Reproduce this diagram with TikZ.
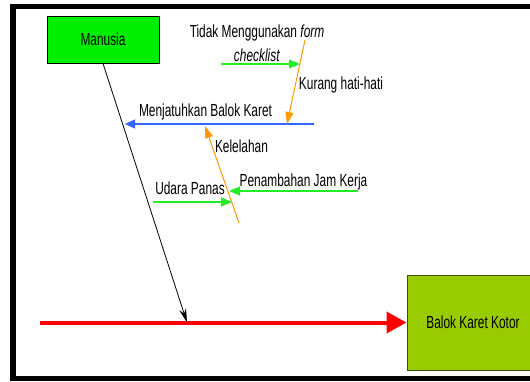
\documentclass[tikz,border=0pt]{standalone}
\usepackage{fontspec}
\setmainfont[FakeStretch=0.68]{Liberation Sans}
\usetikzlibrary{arrows.meta}

\definecolor{hijau}{HTML}{00EE00}
\definecolor{hijaupanah}{HTML}{22EE22}
\definecolor{zaitun}{HTML}{99CC00}
\definecolor{zaitungelap}{HTML}{3F4F10}
\definecolor{jingga}{HTML}{FF9900}
\definecolor{biru}{HTML}{3366FF}

\tikzset{
	lbl/.style={font=\fontsize{17.5}{24}\selectfont, inner sep=0pt},
	kotak/.style={draw, line width=1pt, font=\fontsize{17.5}{20}\selectfont},
	sebab/.style={draw=hijaupanah, line width=1.2pt, -{Triangle[length=11pt,width=9pt]}},
	subsebab/.style={draw=jingga, line width=1pt, -{Triangle[length=12pt,width=8pt]}},
}

\begin{document}
\begin{tikzpicture}[x=1pt,y=-1pt]
	\useasboundingbox (0,0) rectangle (530,381);
	\clip (0,0) rectangle (530,381);
	\fill[white] (0,0) rectangle (530,381);
	\draw[line width=5.5pt] (540,6.5) -- (13,6.5) -- (13,378.5) -- (540,378.5);

	\node[kotak, fill=hijau, minimum width=112pt, minimum height=47pt] (manusia) at (103,39.5) {Manusia};
	\node[kotak, draw=zaitungelap, fill=zaitun, minimum width=132pt, minimum height=95pt] (balok) at (473,322.5) {Balok Karet Kotor};

	\coordinate (ekor) at (40,322.5);
	\coordinate (tulang) at (187,322.5);
	\coordinate (jatuh0) at (314,124);
	\coordinate (jatuh1) at (125,124);
	\coordinate (kurang0) at (305,40);
	\coordinate (kurang1) at (287,124);
	\coordinate (lelah0) at (239,223);
	\coordinate (lelah1) at (205,126);
	\coordinate (form0) at (221,64);
	\coordinate (form1) at (300,64);
	\coordinate (jam0) at (358,191);
	\coordinate (jam1) at (229,191);
	\coordinate (udara0) at (153,202);
	\coordinate (udara1) at (232,202);

	\draw[red, line width=4pt, -{Triangle[length=20pt,width=21pt]}] (ekor) -- (balok.west);
	\draw[black, line width=0.8pt, -{Stealth[length=14pt,width=7pt]}] (manusia.south) -- (tulang);
	\draw[biru, line width=1.2pt, -{Triangle[length=10pt,width=9pt]}] (jatuh0) -- (jatuh1);
	\draw[subsebab] (kurang0) -- (kurang1);
	\draw[subsebab] (lelah0) -- (lelah1);
	\draw[sebab] (form0) -- (form1);
	\draw[sebab] (jam0) -- (jam1);
	\draw[sebab] (udara0) -- (udara1);

	\node[lbl, align=center] (tidak) at (257,43) {Tidak Menggunakan \textit{form}\\\textit{checklist}};
	\node[lbl, anchor=base] (kuranglbl) at (341,89) {Kurang hati-hati};
	\node[lbl, anchor=base] (jatuhlbl) at (205.5,116.5) {Menjatuhkan Balok Karet};
	\node[lbl, anchor=base] (lelahlbl) at (241.5,152.5) {Kelelahan};
	\node[lbl, anchor=base] (jamlbl) at (303.5,186) {Penambahan Jam Kerja};
	\node[lbl, anchor=base] (udaralbl) at (190,194) {Udara Panas};
\end{tikzpicture}
\end{document}
